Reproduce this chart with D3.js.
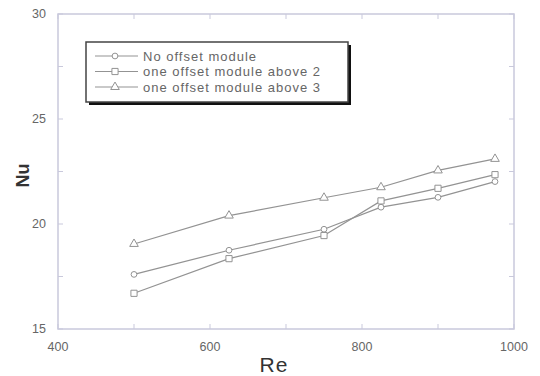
<!DOCTYPE html>
<html>
<head>
<meta charset="utf-8">
<script src="https://cdn.jsdelivr.net/npm/d3@7"></script>
<style>
  body { margin: 0; background: #fff; }
  text { font-family: Arial, "Liberation Sans", sans-serif; }
</style>
</head>
<body>
<svg id="chart" width="540" height="376"></svg>
<script>
// data
const re = [500, 625, 750, 825, 900, 975];
const noOffset = [17.6, 18.75, 19.75, 20.8, 21.27, 22.02];
const above2 = [16.7, 18.35, 19.45, 21.1, 21.7, 22.35];
const above3 = [19.05, 20.4, 21.25, 21.75, 22.55, 23.1];
const seriesNames = ['No offset module', 'one offset module above 2', 'one offset module above 3'];
const markers = ['circle', 'square', 'triangle'];
const xTicks = [400, 600, 800, 1000];
const yTicks = [15, 20, 25, 30];

const width = 540, height = 376;
const margin = { top: 14, right: 26, bottom: 47, left: 58 };
const frameColor = '#c9c9dc';
const lineColor = '#939393';
const labelColor = '#666';

const svg = d3.select('#chart');

const x = d3.scaleLinear().domain([400, 1000]).range([margin.left, width - margin.right]);
const y = d3.scaleLinear().domain([15, 30]).range([height - margin.bottom, margin.top]);

// frame
svg.append('rect')
  .attr('x', x(400)).attr('y', y(30))
  .attr('width', x(1000) - x(400)).attr('height', y(15) - y(30))
  .attr('fill', 'none')
  .attr('stroke', frameColor)
  .attr('stroke-width', 1.5);

// inward ticks on all four sides (major + minor)
const xAll = d3.range(400, 1001, 100);
const yAll = d3.range(15, 30.01, 2.5);
const tickG = svg.append('g').attr('stroke', frameColor).attr('stroke-width', 1);
xAll.forEach(v => {
  tickG.append('line').attr('x1', x(v)).attr('x2', x(v)).attr('y1', y(15)).attr('y2', y(15) - 5);
  tickG.append('line').attr('x1', x(v)).attr('x2', x(v)).attr('y1', y(30)).attr('y2', y(30) + 5);
});
yAll.forEach(v => {
  tickG.append('line').attr('x1', x(400)).attr('x2', x(400) + 5).attr('y1', y(v)).attr('y2', y(v));
  tickG.append('line').attr('x1', x(1000)).attr('x2', x(1000) - 5).attr('y1', y(v)).attr('y2', y(v));
});

// tick labels
svg.append('g').selectAll('text')
  .data(xTicks).enter().append('text')
  .attr('x', d => x(d)).attr('y', y(15) + 22)
  .attr('text-anchor', 'middle')
  .attr('font-size', 12.5).attr('fill', labelColor)
  .text(d => d);

svg.append('g').selectAll('text')
  .data(yTicks).enter().append('text')
  .attr('x', x(400) - 12).attr('y', d => y(d) + 4)
  .attr('text-anchor', 'end')
  .attr('font-size', 12.5).attr('fill', labelColor)
  .text(d => d);

// axis titles
svg.append('text')
  .attr('x', (x(400) + x(1000)) / 2 - 12).attr('y', 372)
  .attr('text-anchor', 'middle')
  .attr('font-size', 21).attr('fill', '#333')
  .attr('letter-spacing', 1)
  .text('Re');

svg.append('text')
  .attr('transform', `translate(29,${y(22.5) + 4}) rotate(-90)`)
  .attr('text-anchor', 'middle')
  .attr('font-size', 18).attr('font-weight', 'bold').attr('fill', '#333')
  .text('Nu');

// marker shapes
const symbolFor = {
  circle: d3.symbol(d3.symbolCircle, 26),
  square: d3.symbol(d3.symbolSquare, 38),
  triangle: d3.symbol(d3.symbolTriangle, 32)
};

const series = [noOffset, above2, above3];
const line = d3.line().x((d, i) => x(re[i])).y(d => y(d));

series.forEach((vals, si) => {
  const g = svg.append('g');
  g.append('path')
    .attr('d', line(vals))
    .attr('fill', 'none')
    .attr('stroke', lineColor)
    .attr('stroke-width', 1.2);
  g.selectAll('path.m')
    .data(vals).enter().append('path')
    .attr('class', 'm')
    .attr('transform', (d, i) => `translate(${x(re[i])},${y(d)})`)
    .attr('d', symbolFor[markers[si]]())
    .attr('fill', '#fff')
    .attr('stroke', lineColor)
    .attr('stroke-width', 1);
});

// legend
const lg = svg.append('g');
const lx = 86, ly = 42, lw = 262, lh = 60;
lg.append('rect')
  .attr('x', lx + 3).attr('y', ly + 3).attr('width', lw).attr('height', lh)
  .attr('fill', '#111');
lg.append('rect')
  .attr('x', lx).attr('y', ly).attr('width', lw).attr('height', lh)
  .attr('fill', '#fff').attr('stroke', '#444').attr('stroke-width', 1.5);

seriesNames.forEach((name, i) => {
  const yy = ly + 14 + i * 15.5;
  lg.append('line')
    .attr('x1', lx + 9).attr('x2', lx + 52).attr('y1', yy).attr('y2', yy)
    .attr('stroke', lineColor).attr('stroke-width', 1);
  lg.append('path')
    .attr('transform', `translate(${lx + 29},${yy})`)
    .attr('d', symbolFor[markers[i]]())
    .attr('fill', '#fff').attr('stroke', lineColor);
  lg.append('text')
    .attr('x', lx + 57).attr('y', yy + 4.5)
    .attr('font-size', 13).attr('fill', labelColor)
    .attr('letter-spacing', 1)
    .text(name);
});
</script>
</body>
</html>
